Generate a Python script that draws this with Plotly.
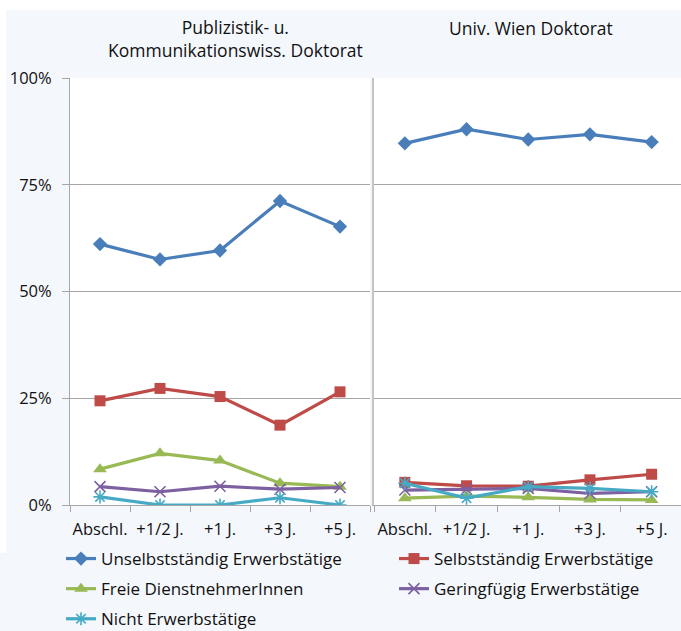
import plotly.graph_objects as go

categories = ["Abschl.", "+1/2 J.", "+1 J.", "+3 J.", "+5 J."]
series_names = [
    "Unselbstständig Erwerbstätige",
    "Selbstständig Erwerbstätige",
    "Freie DienstnehmerInnen",
    "Geringfügig Erwerbstätige",
    "Nicht Erwerbstätige",
]
# Left panel: Publizistik- u. Kommunikationswiss. Doktorat (percent)
publ_unselb = [61.1, 57.5, 59.6, 71.2, 65.2]
publ_selb = [24.4, 27.3, 25.4, 18.7, 26.5]
publ_frei = [8.4, 12.1, 10.4, 5.1, 4.3]
publ_gering = [4.3, 3.1, 4.4, 3.7, 4.1]
publ_nicht = [1.9, 0.0, 0.0, 1.7, 0.0]
# Right panel: Univ. Wien Doktorat (percent)
univ_unselb = [84.7, 88.0, 85.6, 86.8, 85.0]
univ_selb = [5.3, 4.5, 4.4, 5.9, 7.2]
univ_frei = [1.6, 2.1, 1.8, 1.3, 1.2]
univ_gering = [3.5, 3.7, 3.9, 2.7, 3.1]
univ_nicht = [5.1, 1.6, 4.3, 3.9, 3.1]

y_ticks = [0, 25, 50, 75, 100]
y_tick_labels = ["0%", "25%", "50%", "75%", "100%"]
panel_titles = ["Publizistik- u.<br>Kommunikationswiss. Doktorat", "Univ. Wien Doktorat"]

colors = ["#4A7EBB", "#BE4B48", "#98B954", "#7D60A0", "#46AAC5"]
symbols = ["diamond", "square", "triangle-up", "x-thin", "asterisk"]
msizes = [11, 11, 12, 11, 11]
legend_of = ["legend", "legend2", "legend", "legend2", "legend"]

FONT = "Open Sans"
TXT = "#111111"

fig = go.Figure()
left = [publ_unselb, publ_selb, publ_frei, publ_gering, publ_nicht]
right = [univ_unselb, univ_selb, univ_frei, univ_gering, univ_nicht]

for panel, data in enumerate([left, right]):
    for i, vals in enumerate(data):
        thin = symbols[i] in ("x-thin", "asterisk")
        marker = dict(symbol=symbols[i], size=msizes[i], color=colors[i],
                      line=dict(width=1.6 if thin else 0, color=colors[i]))
        fig.add_trace(go.Scatter(
            x=categories, y=vals, mode="lines+markers", name=series_names[i],
            line=dict(color=colors[i], width=3.2),
            marker=marker,
            xaxis="x" if panel == 0 else "x2",
            yaxis="y" if panel == 0 else "y2",
            showlegend=(panel == 0),
            legendgroup=series_names[i],
            legend=legend_of[i],
        ))

W, H = 681, 631
ML, MR, MT, MB = 70, 0, 78, 126
PW = W - ML - MR
PH = H - MT - MB

def px_x(p):
    return (p - ML) / PW

def px_y(p):
    return (H - MB - p) / PH

grid = "#A6A6A6"
axis_common = dict(
    type="category", tickson="boundaries", ticks="outside", ticklen=6,
    tickcolor=grid, showline=True, linecolor=grid, linewidth=1, tickangle=0,
    showgrid=False, tickfont=dict(family=FONT, size=16.5, color=TXT),
    ticklabelstandoff=9, fixedrange=True, automargin=False,
)
fig.update_layout(
    width=W, height=H,
    margin=dict(l=ML, r=MR, t=MT, b=MB, pad=0, autoexpand=False),
    paper_bgcolor="#F4F7FC", plot_bgcolor="#FFFFFF",
    font=dict(family=FONT, size=16.5, color=TXT),
    xaxis=dict(domain=[0, px_x(370)], range=[-0.5, 4.5], anchor="y", **axis_common),
    xaxis2=dict(domain=[px_x(374), 1], range=[-0.5, -0.5 + (W - 374) / 61.7], anchor="y2", **axis_common),
    yaxis=dict(domain=[0, 1], range=[0, 100], tickmode="array", tickvals=y_ticks,
               ticktext=y_tick_labels, automargin=False, ticklabelstandoff=7,
               showgrid=True, gridcolor=grid, gridwidth=1, zeroline=False,
               showline=True, linecolor=grid, ticks="outside", ticklen=7, tickcolor=grid,
               tickfont=dict(family=FONT, size=16.5, color=TXT), anchor="x"),
    yaxis2=dict(domain=[0, 1], range=[0, 100], tickmode="array", tickvals=y_ticks,
                showticklabels=False, automargin=False,
                showgrid=True, gridcolor=grid, gridwidth=1, zeroline=False,
                showline=True, linecolor="#C4C4C4", linewidth=2, mirror=False,
                anchor="x2"),
    legend=dict(x=px_x(61), y=px_y(541), xanchor="left", yanchor="top",
                orientation="v", bgcolor="rgba(0,0,0,0)", tracegroupgap=5,
                font=dict(family=FONT, size=17, color=TXT)),
    legend2=dict(x=px_x(394), y=px_y(541), xanchor="left", yanchor="top",
                 orientation="v", bgcolor="rgba(0,0,0,0)", tracegroupgap=5,
                 font=dict(family=FONT, size=17, color=TXT)),
    shapes=[
        dict(type="rect", xref="paper", yref="paper", layer="below",
             x0=px_x(0), x1=px_x(W), y0=px_y(10), y1=px_y(0),
             fillcolor="#FFFFFF", line=dict(width=0)),
        dict(type="rect", xref="paper", yref="paper", layer="below",
             x0=px_x(0), x1=px_x(6), y0=px_y(553), y1=px_y(0),
             fillcolor="#FFFFFF", line=dict(width=0)),
    ],
    annotations=[
        dict(text=panel_titles[0], xref="paper", yref="paper", x=px_x(235), y=px_y(39),
             xanchor="center", yanchor="middle", showarrow=False,
             font=dict(family=FONT, size=17.5, color=TXT)),
        dict(text=panel_titles[1], xref="paper", yref="paper", x=px_x(531), y=px_y(28),
             xanchor="center", yanchor="middle", showarrow=False,
             font=dict(family=FONT, size=17.5, color=TXT)),
    ],
)

fig.write_html(
    "out.html",
    config={"displayModeBar": False},
    post_script="document.body.style.margin='0px';document.body.style.overflow='hidden';",
)
